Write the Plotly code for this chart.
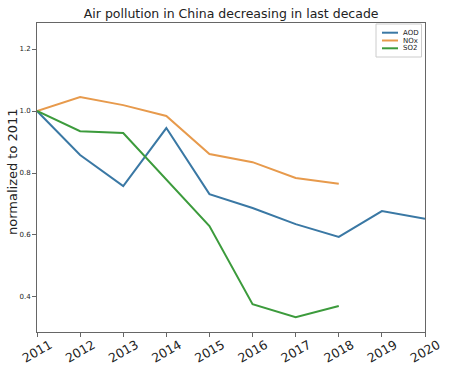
import plotly.graph_objects as go

years = [2011, 2012, 2013, 2014, 2015, 2016, 2017, 2018, 2019, 2020]
aod = [1.0, 0.858, 0.758, 0.945, 0.732, 0.687, 0.635, 0.594, 0.677, 0.652]
nox_years = [2011, 2012, 2013, 2014, 2015, 2016, 2017, 2018]
nox = [1.0, 1.045, 1.019, 0.984, 0.861, 0.835, 0.784, 0.765]
so2_years = [2011, 2012, 2013, 2014, 2015, 2016, 2017, 2018]
so2 = [1.0, 0.935, 0.929, 0.780, 0.629, 0.377, 0.335, 0.371]
y_ticks = [0.4, 0.6, 0.8, 1.0, 1.2]

series = [
    ("AOD", years, aod, "#3a78a4"),
    ("NOx", nox_years, nox, "#e79a4c"),
    ("SO2", so2_years, so2, "#3c9b3c"),
]

W, H = 455, 366
L, R, T, B = 37, 30, 23, 34
PW, PH = W - L - R, H - T - B

def px(xp):
    return (xp - L) / PW

def py(yp):
    return (H - B - yp) / PH

fig = go.Figure()
shapes = []
annotations = []
# legend box
shapes.append(dict(type="rect", xref="paper", yref="paper",
                   x0=px(376), x1=px(421.5), y0=py(57), y1=py(24),
                   line=dict(color="#cccccc", width=1), fillcolor="white",
                   layer="above"))
for i, (name, xs, ys, col) in enumerate(series):
    fig.add_trace(go.Scatter(x=xs, y=ys, mode="lines", name=name,
                             line=dict(color=col, width=2), showlegend=False,
                             hoverinfo="skip"))
    yrow = 32.7 + i * 7.8
    shapes.append(dict(type="line", xref="paper", yref="paper",
                       x0=px(382), x1=px(398), y0=py(yrow), y1=py(yrow),
                       line=dict(color=col, width=2), layer="above"))
    annotations.append(dict(xref="paper", yref="paper", x=px(401), y=py(yrow),
                            text=name, showarrow=False, xanchor="left",
                            yanchor="middle", font=dict(size=7, color="#222")))

# y-axis title
annotations.append(dict(xref="paper", yref="paper", x=px(12), y=py(172),
                        text="normalized to 2011", textangle=-90, showarrow=False,
                        xanchor="center", yanchor="middle",
                        font=dict(size=13, color="#222")))

fig.update_layout(
    width=W, height=H,
    margin=dict(l=L, r=R, t=T, b=B, autoexpand=False),
    paper_bgcolor="white", plot_bgcolor="white",
    font=dict(family="DejaVu Sans", color="#222"),
    title=dict(text="Air pollution in China decreasing in last decade",
               x=0.508, xanchor="center", y=1 - 14 / H, yanchor="middle",
               font=dict(size=12.5, color="#222")),
    showlegend=False,
    shapes=shapes,
    annotations=annotations,
    xaxis=dict(range=[2011, 2020], tickmode="array", tickvals=years,
               ticktext=[str(y) for y in years], tickangle=-30,
               ticklabelshift=13, ticklabelstandoff=-4,
               showgrid=False, zeroline=False, showline=True, mirror=True,
               linecolor="#666", linewidth=1, ticks="outside", ticklen=4,
               tickcolor="#666", tickfont=dict(size=12.5), automargin=False),
    yaxis=dict(range=[0.287, 1.284], tickmode="array", tickvals=y_ticks,
               ticktext=[f"{v:.1f}" for v in y_ticks],
               showgrid=False, zeroline=False, showline=True, mirror=True,
               linecolor="#666", linewidth=1, ticks="outside", ticklen=4,
               tickcolor="#666", tickfont=dict(size=7),
               automargin=False),
)

fig.write_html("out.html", config={"displayModeBar": False},
               post_script="document.body.style.margin='0';")
